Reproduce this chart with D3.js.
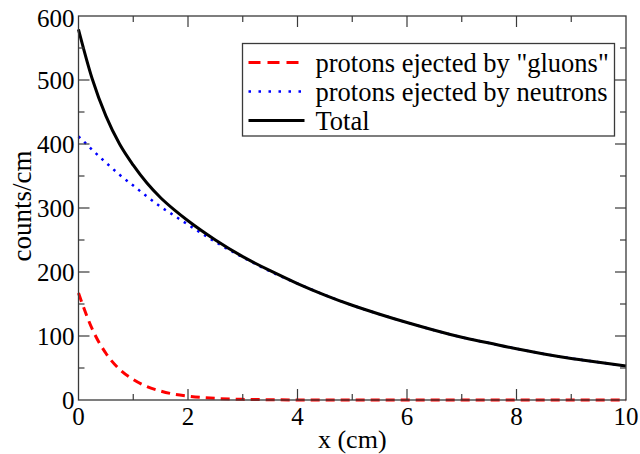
<!DOCTYPE html>
<html>
<head>
<meta charset="utf-8">
<script src="https://cdn.jsdelivr.net/npm/d3@7"></script>
<style>
    body { margin: 0; background: #fff; }
    svg text { font-family: "Liberation Serif", "DejaVu Serif", serif; fill: #000; }
</style>
</head>
<body>
<div id="chart"></div>
<script>
// values
const xValues = [0, 0.25, 0.5, 0.75, 1, 1.25, 1.5, 1.75, 2, 2.5, 3, 3.5, 4, 4.5, 5, 5.5, 6, 6.5, 7, 7.5, 8, 8.5, 9, 9.5, 10];
const gluons = [167, 111, 73, 48, 32, 21, 14, 9, 6, 2.5, 1, 0.5, 0, 0, 0, 0, 0, 0, 0, 0, 0, 0, 0, 0, 0];
const neutrons = [412, 391, 371, 352, 335, 318, 302, 288, 274, 247, 223, 201, 182, 164, 148, 134, 121, 109, 98, 89, 80, 72, 65, 59, 53];
const total = [579, 502, 444, 400, 367, 339, 316, 297, 280, 250, 224, 202, 182, 164, 148, 134, 121, 109, 98, 89, 80, 72, 65, 59, 53];

const xTicks = [0, 2, 4, 6, 8, 10];
const yTicks = [0, 100, 200, 300, 400, 500, 600];

const seriesNames = ['protons ejected by "gluons"', 'protons ejected by neutrons', 'Total'];

const width = 640, height = 454;
const margin = {top: 16, right: 14, bottom: 54, left: 78.5};
const innerW = width - margin.left - margin.right;
const innerH = height - margin.top - margin.bottom;

const x = d3.scaleLinear().domain([0, 10]).range([0, innerW]);
const y = d3.scaleLinear().domain([0, 600]).range([innerH, 0]);

const svg = d3.select("#chart").append("svg")
    .attr("width", width)
    .attr("height", height);

const g = svg.append("g")
    .attr("transform", "translate(" + margin.left + "," + margin.top + ")");

const styles = [
    {color: "#ff0000", width: 3, dash: "9,6"},
    {color: "#0000ff", width: 2.5, dash: "2.5,5.5"},
    {color: "#000000", width: 3, dash: null}
];

// curves
const line = d3.line()
    .curve(d3.curveMonotoneX)
    .x((d, i) => x(xValues[i]))
    .y(d => y(d));

[neutrons, total, gluons].forEach(series => {
    const s = series === gluons ? styles[0] : series === neutrons ? styles[1] : styles[2];
    g.append("path")
        .datum(series)
        .attr("fill", "none")
        .attr("stroke", s.color)
        .attr("stroke-width", s.width)
        .attr("stroke-dasharray", s.dash)
        .attr("d", line);
});

// frame
const frameColor = "#3a3a3a";
g.append("rect")
    .attr("width", innerW)
    .attr("height", innerH)
    .attr("fill", "none")
    .attr("stroke", frameColor)
    .attr("stroke-width", 1.3);

// ticks inside on all four sides
const xMinor = d3.range(1, 10, 2);
const yMinor = d3.range(50, 600, 100);
const tickG = g.append("g").attr("stroke", frameColor).attr("stroke-width", 1.2);

const xAll = xTicks.slice(1, -1).map(v => ({v, len: 11})).concat(xMinor.map(v => ({v, len: 6})));
const yAll = yTicks.slice(1, -1).map(v => ({v, len: 11})).concat(yMinor.map(v => ({v, len: 6})));

xAll.forEach(t => {
    tickG.append("line").attr("x1", x(t.v)).attr("x2", x(t.v)).attr("y1", innerH).attr("y2", innerH - t.len);
    tickG.append("line").attr("x1", x(t.v)).attr("x2", x(t.v)).attr("y1", 0).attr("y2", t.len);
});
yAll.forEach(t => {
    tickG.append("line").attr("x1", 0).attr("x2", t.len).attr("y1", y(t.v)).attr("y2", y(t.v));
    tickG.append("line").attr("x1", innerW).attr("x2", innerW - t.len).attr("y1", y(t.v)).attr("y2", y(t.v));
});

// tick labels
g.selectAll(".xlabel")
    .data(xTicks)
    .enter().append("text")
    .attr("x", d => x(d))
    .attr("y", innerH + 25)
    .attr("text-anchor", "middle")
    .attr("font-size", 25)
    .text(d => d);

g.selectAll(".ylabel")
    .data(yTicks)
    .enter().append("text")
    .attr("x", -4)
    .attr("y", d => d === 600 ? y(d) + 11 : y(d) + 9)
    .attr("text-anchor", "end")
    .attr("font-size", 25)
    .text(d => d);

// axis titles
svg.append("text")
    .attr("x", margin.left + innerW / 2)
    .attr("y", 448)
    .attr("text-anchor", "middle")
    .attr("font-size", 26)
    .text("x (cm)");

svg.append("text")
    .attr("transform", "translate(31," + 206 + ") rotate(-90)")
    .attr("text-anchor", "middle")
    .attr("font-size", 27)
    .text("counts/cm");

// legend
const legend = svg.append("g").attr("transform", "translate(242.5,43.5)");
legend.append("rect")
    .attr("width", 372)
    .attr("height", 92.5)
    .attr("fill", "#fff")
    .attr("stroke", frameColor)
    .attr("stroke-width", 1.3);

seriesNames.forEach((name, i) => {
    const ly = 19 + i * 29;
    const s = styles[i];
    legend.append("line")
        .attr("x1", 6).attr("x2", 62)
        .attr("y1", ly).attr("y2", ly)
        .attr("stroke", s.color)
        .attr("stroke-width", s.width)
        .attr("stroke-dasharray", i === 0 ? "12,7" : i === 1 ? "2.5,7.5" : null);
    legend.append("text")
        .attr("x", 73)
        .attr("y", ly + 9)
        .attr("font-size", 26.5)
        .text(name);
});
</script>
</body>
</html>
